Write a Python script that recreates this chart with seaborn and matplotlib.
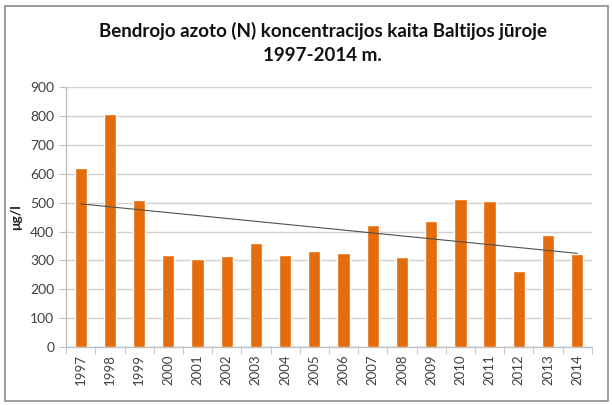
import matplotlib.pyplot as plt
import matplotlib.patches as patches
import numpy as np
import pandas as pd
import seaborn as sns

years = [str(y) for y in range(1997, 2015)]
values = [620, 808, 510, 320, 305, 317, 360, 320, 334, 327,
          421, 311, 435, 514, 505, 262, 389, 323]

title = "Bendrojo azoto (N) koncentracijos kaita Baltijos jūroje\n1997-2014 m."
ylabel = "μg/l"

df = pd.DataFrame({"year": years, "value": values})

sns.set_style("white")
plt.rcParams["font.family"] = ["Lato", "DejaVu Sans"]

fig = plt.figure(figsize=(6.12, 4.05), dpi=100)
ax = fig.add_axes([0.108, 0.143, 0.859, 0.642])

sns.barplot(data=df, x="year", y="value", color="#E46C0A", saturation=1,
            width=0.42, ax=ax, zorder=3)

# linear trendline
x = np.arange(len(values))
slope, intercept = np.polyfit(x, values, 1)
ax.plot(x, slope * x + intercept, color="#505050", linewidth=0.8, zorder=4)

ax.set_ylim(0, 900)
ax.set_yticks(range(0, 901, 100))
ax.set_xlim(-0.5, len(values) - 0.5)
ax.yaxis.grid(True, color="#D0D0D0", linewidth=1, zorder=0)
ax.set_axisbelow(True)

for side in ["top", "right"]:
    ax.spines[side].set_visible(False)
for side in ["left", "bottom"]:
    ax.spines[side].set_color("#BFBFBF")
    ax.spines[side].set_linewidth(1)

ax.set_xticks(x)
ax.set_xticks(np.arange(-0.5, len(values)), minor=True)
ax.tick_params(axis="x", which="major", length=0, rotation=90,
               labelsize=9.5, labelcolor="#404040", pad=5)
ax.tick_params(axis="x", which="minor", length=5, color="#BFBFBF", bottom=True)
ax.tick_params(axis="y", length=5, color="#BFBFBF", left=True,
               labelsize=10, labelcolor="#404040")

ax.set_xlabel("")
ax.set_ylabel(ylabel, fontsize=10, fontweight="bold", color="#222222", labelpad=6)

fig.suptitle(title, x=0.527, y=0.945, fontsize=13.5, fontweight="bold",
             color="#111111", linespacing=1.5)

fig.patches.append(patches.Rectangle((0.008, 0.01), 0.985, 0.975,
                                     transform=fig.transFigure, fill=False,
                                     edgecolor="#8C8C8C", linewidth=1.2))

fig.savefig("out.png", dpi=100)
